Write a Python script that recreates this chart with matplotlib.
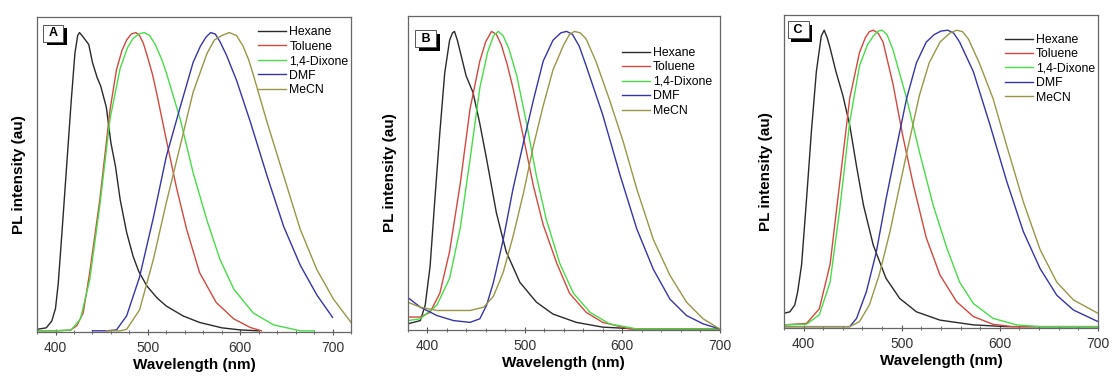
import numpy as np
import matplotlib.pyplot as plt
import matplotlib.patheffects as pe
from matplotlib.ticker import MultipleLocator, NullLocator

plt.rcParams['font.family'] = ['Liberation Sans', 'DejaVu Sans']

solvents = ['Hexane', 'Toluene', '1,4-Dixone', 'DMF', 'MeCN']
colors = ['#2a2a2a', '#d4483f', '#48dc48', '#3535aa', '#9a9645']
panels = ['A', 'B', 'C']
xlims = [(380, 720), (380, 700), (380, 700)]

# ---- panel A (normalised PL) ----
a_hex_x = [380, 390, 396, 400, 403, 407, 412, 417, 421, 424, 426, 430, 436, 440, 445, 449, 455, 460,
           465, 470, 477, 484, 490, 499, 510, 520, 538, 556, 580, 600, 620]
a_hex_y = [0.005, 0.01, 0.033, 0.075, 0.16, 0.33, 0.55, 0.77, 0.93, 0.99, 1.0, 0.985, 0.96, 0.90,
           0.85, 0.82, 0.75, 0.63, 0.55, 0.44, 0.33, 0.25, 0.20, 0.15, 0.11, 0.083, 0.05, 0.028, 0.01,
           0.003, 0.0]
a_tol_x = [380, 400, 416, 423, 430, 437, 448, 459, 466, 472, 477, 482, 487, 491, 495, 499, 505, 510,
           520, 531, 542, 556, 574, 593, 611, 623]
a_tol_y = [0.0, 0.0, 0.002, 0.017, 0.06, 0.195, 0.44, 0.74, 0.875, 0.94, 0.975, 0.995, 1.0, 0.99,
           0.965, 0.925, 0.86, 0.79, 0.64, 0.48, 0.34, 0.195, 0.095, 0.04, 0.011, 0.0]
a_dio_x = [380, 400, 417, 427, 437, 448, 459, 470, 478, 484, 490, 496, 502, 508, 515, 520, 535, 549,
           564, 578, 593, 614, 636, 665, 680]
a_dio_y = [0.0, 0.0, 0.003, 0.04, 0.17, 0.42, 0.71, 0.88, 0.95, 0.98, 0.995, 1.0, 0.99, 0.96, 0.91,
           0.865, 0.71, 0.53, 0.37, 0.24, 0.14, 0.06, 0.02, 0.0, 0.0]
a_dmf_x = [440, 455, 466, 477, 491, 506, 520, 535, 549, 557, 563, 568, 573, 578, 585, 596, 611, 629,
           647, 665, 683, 700]
a_dmf_y = [0.0, 0.0, 0.003, 0.05, 0.18, 0.38, 0.585, 0.75, 0.90, 0.955, 0.985, 1.0, 0.995, 0.97,
           0.925, 0.84, 0.70, 0.52, 0.35, 0.22, 0.12, 0.045]
a_mec_x = [455, 470, 477, 491, 506, 520, 535, 549, 564, 572, 580, 588, 596, 603, 609, 614, 629, 647,
           665, 683, 701, 720]
a_mec_y = [0.0, 0.0, 0.005, 0.07, 0.24, 0.43, 0.62, 0.80, 0.93, 0.975, 0.99, 1.0, 0.99, 0.955, 0.91,
           0.86, 0.70, 0.52, 0.34, 0.205, 0.106, 0.028]

# ---- panel B ----
b_hex_x = [380, 393, 398, 403, 408, 413, 418, 423, 426, 428, 431, 434, 440, 447, 454, 461, 471, 481,
           495, 512, 529, 553, 580, 615, 700]
b_hex_y = [0.017, 0.028, 0.08, 0.21, 0.44, 0.66, 0.86, 0.97, 0.995, 1.0, 0.97, 0.93, 0.85, 0.795,
           0.69, 0.57, 0.39, 0.26, 0.157, 0.09, 0.05, 0.022, 0.006, 0.0, 0.0]
b_tol_x = [380, 393, 403, 413, 423, 434, 444, 454, 460, 466, 471, 476, 482, 488, 499, 509, 519, 533,
           546, 563, 580, 608, 700]
b_tol_y = [0.04, 0.04, 0.056, 0.12, 0.26, 0.49, 0.74, 0.90, 0.965, 1.0, 0.99, 0.955, 0.89, 0.81,
           0.64, 0.48, 0.35, 0.22, 0.12, 0.056, 0.022, 0.0, 0.0]
b_dio_x = [380, 393, 410, 423, 434, 444, 454, 462, 468, 473, 478, 484, 492, 502, 512, 522, 536, 550,
           567, 587, 615, 700]
b_dio_y = [0.028, 0.034, 0.08, 0.17, 0.34, 0.57, 0.81, 0.93, 0.985, 1.0, 0.985, 0.94, 0.85, 0.69,
           0.515, 0.37, 0.22, 0.12, 0.056, 0.017, 0.0, 0.0]
b_dmf_x = [380, 393, 410, 427, 444, 454, 461, 468, 478, 488, 499, 509, 519, 529, 537, 543, 549, 556,
           563, 580, 598, 615, 632, 649, 666, 683, 700]
b_dmf_y = [0.106, 0.073, 0.045, 0.028, 0.022, 0.034, 0.08, 0.157, 0.30, 0.47, 0.63, 0.77, 0.90, 0.97,
           0.995, 1.0, 0.99, 0.95, 0.885, 0.72, 0.515, 0.336, 0.20, 0.10, 0.045, 0.017, 0.0]
b_mec_x = [380, 393, 410, 427, 444, 458, 468, 478, 488, 499, 509, 519, 529, 540, 546, 551, 557, 563,
           573, 587, 601, 615, 632, 649, 666, 683, 700]
b_mec_y = [0.09, 0.073, 0.062, 0.062, 0.062, 0.073, 0.11, 0.19, 0.31, 0.46, 0.616, 0.75, 0.87, 0.955,
           0.99, 1.0, 0.995, 0.975, 0.90, 0.77, 0.63, 0.47, 0.30, 0.18, 0.09, 0.034, 0.0]

# ---- panel C ----
c_hex_x = [380, 386, 391, 394, 398, 403, 408, 413, 418, 421, 424, 427, 433, 440, 447, 454, 461, 471,
           484, 498, 515, 539, 573, 607, 700]
c_hex_y = [0.045, 0.05, 0.073, 0.118, 0.21, 0.43, 0.66, 0.86, 0.98, 1.0, 0.975, 0.94, 0.86, 0.78,
           0.68, 0.54, 0.41, 0.275, 0.163, 0.095, 0.05, 0.022, 0.006, 0.0, 0.0]
c_tol_x = [380, 403, 416, 427, 437, 447, 457, 463, 467, 471, 476, 481, 491, 501, 512, 525, 539, 556,
           573, 593, 613, 700]
c_tol_y = [0.006, 0.011, 0.06, 0.21, 0.49, 0.77, 0.925, 0.975, 0.995, 1.0, 0.99, 0.96, 0.82, 0.645,
           0.476, 0.30, 0.174, 0.084, 0.034, 0.008, 0.0, 0.0]
c_dio_x = [380, 403, 416, 427, 437, 447, 457, 465, 471, 476, 480, 485, 491, 505, 518, 532, 546, 559,
           573, 593, 617, 641, 700]
c_dio_y = [0.006, 0.008, 0.04, 0.15, 0.40, 0.69, 0.88, 0.95, 0.98, 0.997, 1.0, 0.985, 0.935, 0.77,
           0.59, 0.41, 0.265, 0.15, 0.078, 0.028, 0.006, 0.0, 0.0]
c_dmf_x = [380, 447, 454, 464, 474, 484, 495, 505, 515, 525, 533, 540, 547, 553, 559, 573, 590, 607,
           624, 641, 658, 675, 700]
c_dmf_y = [0.0, 0.0, 0.028, 0.118, 0.25, 0.43, 0.61, 0.77, 0.89, 0.96, 0.985, 0.997, 1.0, 0.99, 0.96,
           0.86, 0.68, 0.49, 0.32, 0.196, 0.106, 0.056, 0.017]
c_mec_x = [380, 447, 457, 467, 477, 488, 498, 508, 518, 528, 539, 549, 556, 562, 568, 579, 593, 607,
           624, 641, 658, 675, 700]
c_mec_y = [0.0, 0.0, 0.017, 0.073, 0.174, 0.32, 0.476, 0.63, 0.78, 0.89, 0.96, 0.99, 1.0, 0.995, 0.97,
           0.89, 0.77, 0.61, 0.42, 0.26, 0.15, 0.09, 0.045]

series = [
    [(a_hex_x, a_hex_y), (a_tol_x, a_tol_y), (a_dio_x, a_dio_y), (a_dmf_x, a_dmf_y), (a_mec_x, a_mec_y)],
    [(b_hex_x, b_hex_y), (b_tol_x, b_tol_y), (b_dio_x, b_dio_y), (b_dmf_x, b_dmf_y), (b_mec_x, b_mec_y)],
    [(c_hex_x, c_hex_y), (c_tol_x, c_tol_y), (c_dio_x, c_dio_y), (c_dmf_x, c_dmf_y), (c_mec_x, c_mec_y)],
]

fig = plt.figure(figsize=(11.12, 3.79), dpi=100)
ax_rects = [[0.0333, 0.124, 0.2824, 0.831],
            [0.3666, 0.129, 0.2806, 0.829],
            [0.7050, 0.135, 0.2824, 0.826]]
leg_pos = [(0.704, 0.971), (0.687, 0.901), (0.704, 0.939)]
box_pos = [(0.028, 0.968), (0.032, 0.947), (0.020, 0.972)]

for i in range(3):
    ax = fig.add_axes(ax_rects[i])
    for (x, y), name, c in zip(series[i], solvents, colors):
        ax.plot(x, y, color=c, lw=1.0, label=name)
    ax.set_xlim(*xlims[i])
    ax.set_ylim(-0.004, 1.052)
    ax.xaxis.set_major_locator(MultipleLocator(100))
    ax.xaxis.set_minor_locator(MultipleLocator(20))
    ax.yaxis.set_major_locator(NullLocator())
    ax.tick_params(axis='x', which='major', direction='inout', length=5, width=0.8,
                   color='#555555', labelsize=10, labelcolor='#333333', pad=4)
    ax.tick_params(axis='x', which='minor', direction='inout', length=3, width=0.6, color='#555555')
    for s in ax.spines.values():
        s.set_color('#666666')
        s.set_linewidth(0.9)
    ax.set_xlabel('Wavelength (nm)', fontsize=11, fontweight='bold', labelpad=2)
    ax.set_ylabel('PL intensity (au)', fontsize=11, fontweight='bold')
    ax.yaxis.set_label_coords(-0.035, 0.5)
    ax.legend(loc='upper left', bbox_to_anchor=leg_pos[i], frameon=False, fontsize=8.8,
              handlelength=2.3, handletextpad=0.25, labelspacing=0.2, borderpad=0,
              borderaxespad=0)
    t = ax.text(box_pos[i][0], box_pos[i][1], ' ' + panels[i] + ' ', transform=ax.transAxes,
                ha='left', va='top', fontsize=9, fontweight='bold',
                bbox=dict(boxstyle='square,pad=0.2', fc='white', ec='#555555', lw=0.7))
    t.get_bbox_patch().set_path_effects([
        pe.SimplePatchShadow(offset=(2.5, -2.5), shadow_rgbFace='black', alpha=1.0),
        pe.Normal()])

fig.savefig('out.png', dpi=100)
